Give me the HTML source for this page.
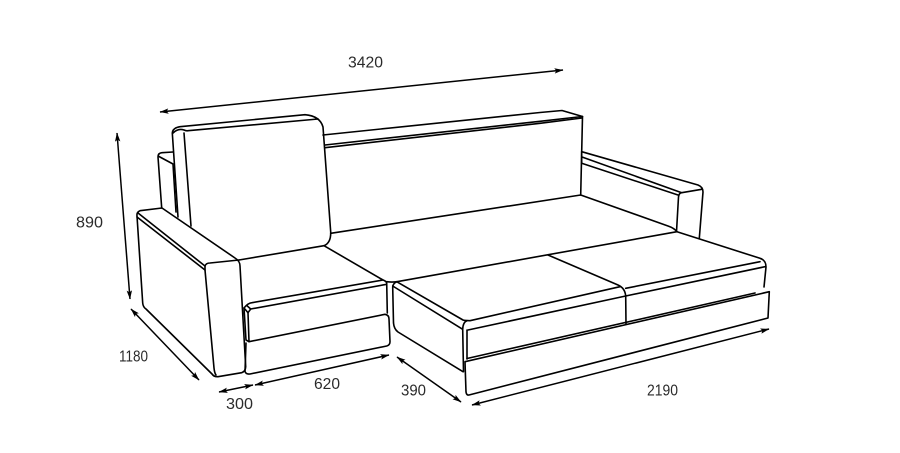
<!DOCTYPE html>
<html><head><meta charset="utf-8"><style>html,body{margin:0;padding:0;background:#fff}svg{display:block}text{font-family:"Liberation Sans",sans-serif;font-size:15.5px;fill:#2a2a2a}</style></head><body>
<svg width="900" height="453" viewBox="0 0 900 453" xmlns="http://www.w3.org/2000/svg">
<defs><marker id="a" viewBox="0 0 10 6" refX="9.500" refY="3" markerWidth="9" markerHeight="5.400" orient="auto-start-reverse" markerUnits="userSpaceOnUse"><path d="M0 0L10 3L0 6L2 3Z" fill="#000"/></marker></defs>
<g fill="none" stroke="#000" stroke-width="1.6" stroke-linejoin="round" stroke-linecap="round">
<!-- back rest -->
<path d="M323 135L540 112.500L562 110.500L582.500 116.500L580.700 195"/>
<path d="M325 145L540 121.300L582.500 116.500"/>
<path d="M325 147.700L540 123.300L582 118"/>
<path d="M330.700 233.300L580.700 195"/>
<!-- right arm -->
<path d="M581.700 151.700L698 185Q703 187 703 192L699.300 238.300"/>
<path d="M581.700 151.700L581.700 163.300"/>
<path d="M582 157L681.700 192.700L701.700 189.300"/>
<path d="M581.700 163.300L678 195"/>
<path d="M681.700 192.700Q679 193 678.500 197L676.500 231.700"/>
<!-- seat -->
<path d="M580.700 195L668 226Q674 228 677 231.700L760 258.300Q766 260 766 267L764 287"/>
<path d="M677 231.700L397 281.700Q393 283 392.700 287L393.500 323Q394 329 398 332L463 371.700"/>
<path d="M324 245.700L383 280Q386 281 386.700 283L387.300 313"/>
<path d="M386.700 281.700Q392 282.500 397 281.700"/>
<!-- back-left piece -->
<path d="M173 152L162 152.700Q158 153 158 157L161.700 208"/>
<path d="M159 156.500L173 164L176 212"/>
<!-- cushion -->
<path d="M178 217L172.300 133Q172.500 128 180 126.700L305 114.700Q320 116 323 127L330.700 232Q331 243 324 245.700L239 260"/>
<path d="M173 133Q178 128 184 130Q186 131 188 130.700L318 119"/>
<path d="M184 133L191 226"/>
<!-- left arm -->
<path d="M162 208L140 210.700Q136.500 212 137 216L142.700 303Q143 307 146 309L212 374Q214 377 218 376.700L241.700 372.700Q245.500 371.500 245.700 366.700L240 266Q240 261 235 258L162 208"/>
<path d="M138 213L205 266Q206 263 210 263L239 260"/>
<path d="M137 217L205 270"/>
<path d="M205 266L205 270L214 368Q214.500 373 216 375"/>
<!-- left seat front -->
<path d="M383 280L252 302.700Q248 303 244 308L248 312.700L250.700 309L386.700 284.300"/>
<path d="M247.300 306L250.700 309"/>
<path d="M244 308L246 340L249 341.700"/>
<path d="M248 312.700L249 341.700L385 314.300Q389 315 389 319L390 341.700Q390 345 386.700 346L250 374Q246 374.500 245 371.500L246 343"/>
<!-- chaise -->
<path d="M396.700 281.700L463 320Q464 320.500 470 320.700L620 286.700"/>
<path d="M625.700 288.300L760 261.700"/>
<path d="M392.700 286L462.700 329.300Q463 322 467 320.700"/>
<path d="M468 330L625.700 296L765 266.700"/>
<path d="M462.700 329.300L463.500 371.700"/>
<path d="M467 330L467 359"/>
<path d="M548 255L618 285Q625 288 625.700 296L626 324"/>
<!-- base -->
<path d="M465 361.700L769.300 291.700L768 318L469 395Q466.500 395.500 466 392L465 361.700"/>
<path d="M467 358.500L755 293"/>
</g>
<g stroke="#000" stroke-width="1.5" fill="none">
<line x1="160" y1="112" x2="563" y2="70" marker-start="url(#a)" marker-end="url(#a)"/>
<line x1="117" y1="133" x2="130" y2="299" marker-start="url(#a)" marker-end="url(#a)"/>
<line x1="131" y1="309" x2="199" y2="380" marker-start="url(#a)" marker-end="url(#a)"/>
<line x1="219" y1="392" x2="253" y2="385" marker-start="url(#a)" marker-end="url(#a)"/>
<line x1="255" y1="385" x2="389" y2="355" marker-start="url(#a)" marker-end="url(#a)"/>
<line x1="397" y1="357" x2="461" y2="402" marker-start="url(#a)" marker-end="url(#a)"/>
<line x1="472" y1="405" x2="769" y2="329" marker-start="url(#a)" marker-end="url(#a)"/>
</g>
<text x="348" y="67.500" textLength="35" lengthAdjust="spacingAndGlyphs">3420</text>
<text x="76" y="227.500" textLength="27" lengthAdjust="spacingAndGlyphs">890</text>
<text x="119" y="361.500" textLength="29" lengthAdjust="spacingAndGlyphs">1180</text>
<text x="314" y="389" textLength="26" lengthAdjust="spacingAndGlyphs">620</text>
<text x="226" y="409" textLength="27" lengthAdjust="spacingAndGlyphs">300</text>
<text x="401" y="395.500" textLength="25" lengthAdjust="spacingAndGlyphs">390</text>
<text x="647" y="395.500" textLength="31" lengthAdjust="spacingAndGlyphs">2190</text>
</svg>
</body></html>
